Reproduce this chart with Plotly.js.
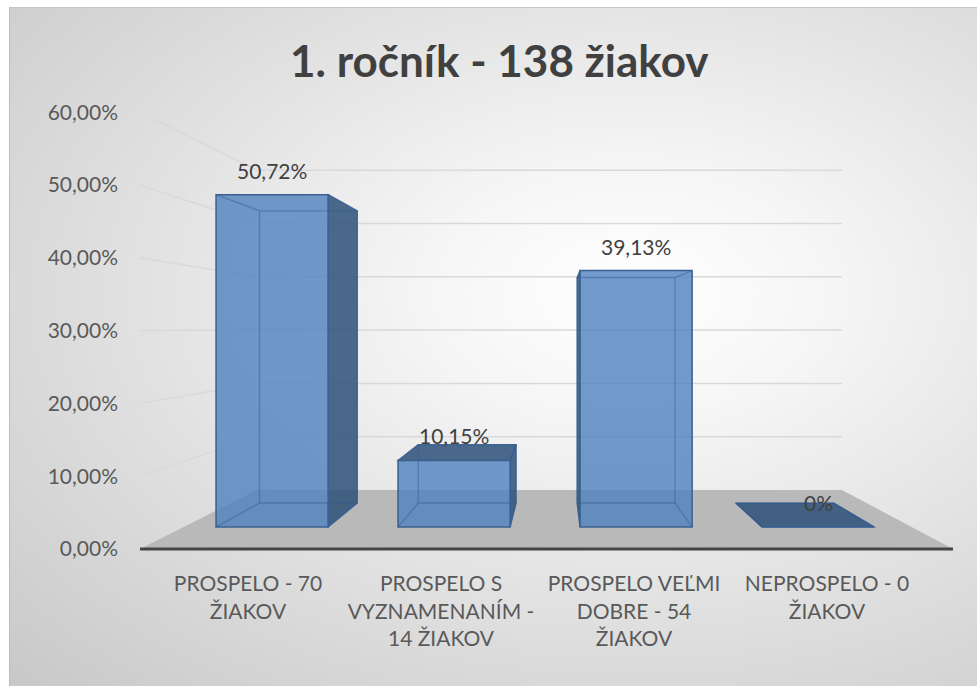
<!DOCTYPE html>
<html>
<head>
<meta charset="utf-8">
<script src="https://cdn.plot.ly/plotly-3.0.1.min.js"></script>
<style>
  html, body { margin: 0; padding: 0; background: #ffffff; overflow: hidden; }
  #wrap { position: relative; width: 977px; height: 686px; overflow: hidden; }
  #bg { position: absolute; left: 9px; top: 7px; width: 968px; height: 679px;
        border-top: 1px solid #c4c4c4; border-left: 1px solid #bcbcbc;
        background: radial-gradient(ellipse farthest-corner at 64% 42%, #ffffff 0%, #f6f6f6 22%, #e2e2e2 55%, #c8c8c8 100%); }
  #chart { position: absolute; left: 0; top: 0; width: 977px; height: 686px; }
</style>
</head>
<body>
<div id="wrap"><div id="bg"></div><div id="chart"></div></div>
<script>
// ---- data ----
const chartTitle = '1. ročník - 138 žiakov';
const categories = ['PROSPELO - 70 ŽIAKOV', 'PROSPELO S VYZNAMENANÍM - 14 ŽIAKOV', 'PROSPELO VEĽMI DOBRE - 54 ŽIAKOV', 'NEPROSPELO - 0 ŽIAKOV'];
const tickLabels = ['PROSPELO - 70<br>ŽIAKOV', 'PROSPELO S<br>VYZNAMENANÍM -<br>14 ŽIAKOV', 'PROSPELO VEĽMI<br>DOBRE - 54<br>ŽIAKOV', 'NEPROSPELO - 0<br>ŽIAKOV'];
const values = [50.72, 10.15, 39.13, 0];
const valueLabels = ['50,72%', '10,15%', '39,13%', '0%'];
const yTicks = [0, 10, 20, 30, 40, 50, 60];
const yTickLabels = ['0,00%', '10,00%', '20,00%', '30,00%', '40,00%', '50,00%', '60,00%'];

// ---- pseudo-3D geometry (pixels) ----
const W = 977, H = 686;
const FRONT = { L: 140, R: 953, Y: 549, S: 7.28 };   // floor front edge plane
const BACK  = { L: 257, R: 842, Y: 490, S: 5.33 };   // back wall plane
const D1 = 0.373, D2 = 0.78;                         // bar front / back depth
const OFF = 0.486, HW = 0.077;                        // bar centre offset / half width (unit of floor width)
function plane(d) {
  return { L: FRONT.L + (BACK.L - FRONT.L) * d, R: FRONT.R + (BACK.R - FRONT.R) * d,
           Y: FRONT.Y + (BACK.Y - FRONT.Y) * d, S: FRONT.S + (BACK.S - FRONT.S) * d };
}
const P1 = plane(D1), P2 = plane(D2);
const n = categories.length;
const cOfPx = px => -OFF + n * (px - P1.L) / (P1.R - P1.L);
const vOfPy = py => (P1.Y - py) / P1.S;
function pt(u, d, v) {
  const p = plane(d);
  return [cOfPx(p.L + u * (p.R - p.L)), vOfPy(p.Y - v * p.S)];
}
const path = pts => 'M' + pts.map(p => p[0].toFixed(4) + ',' + p[1].toFixed(4)).join('L') + 'Z';
const line = (a, b, color, width, layer) => ({ type: 'line', xref: 'x2', yref: 'y2', x0: a[0], y0: a[1], x1: b[0], y1: b[1], line: { color: color, width: width }, layer: layer });
const UC = (P2.L - P1.L) / ((P1.R - P1.L) - (P2.R - P2.L));
const VE = (P1.Y - P2.Y) / (P1.S - P2.S);

const shapes = [];
// floor
shapes.push({ type: 'path', xref: 'x2', yref: 'y2', path: path([pt(0,0,0), pt(1,0,0), pt(1,1,0), pt(0,1,0)]), fillcolor: '#b9b9b9', line: { width: 0 }, layer: 'below' });
// wall grid lines
yTicks.slice(1).forEach(v => {
  shapes.push(line(pt(0,1,v), pt(1,1,v), '#d9d9d9', 1.5, 'below'));
  shapes.push(line(pt(0,0,v), pt(0,1,v), '#d9d9d9', 1.5, 'below'));
});
// axis line
shapes.push(line(pt(0,0,0), pt(1,0,0), '#454545', 3, 'below'));

const SIDE = 'rgba(45,80,120,0.85)';
const EDGE = 'rgba(52,92,145,0.75)';
values.forEach((v, i) => {
  const uc = (i + OFF) / n, u0 = uc - HW, u1 = uc + HW;
  if (u1 < UC) shapes.push({ type: 'path', xref: 'x2', yref: 'y2', path: path([pt(u1,D1,0), pt(u1,D2,0), pt(u1,D2,v), pt(u1,D1,v)]), fillcolor: SIDE, line: { color: EDGE, width: 1.2 }, layer: 'below' });
  if (u0 > UC) shapes.push({ type: 'path', xref: 'x2', yref: 'y2', path: path([pt(u0,D1,0), pt(u0,D2,0), pt(u0,D2,v), pt(u0,D1,v)]), fillcolor: SIDE, line: { color: EDGE, width: 1.2 }, layer: 'below' });
  if (v < VE) shapes.push({ type: 'path', xref: 'x2', yref: 'y2', path: path([pt(u0,D1,v), pt(u1,D1,v), pt(u1,D2,v), pt(u0,D2,v)]), fillcolor: SIDE, line: { color: EDGE, width: 1.2 }, layer: 'below' });
  const hid = 'rgba(50,90,145,0.45)';
  shapes.push({ type: 'path', xref: 'x2', yref: 'y2', path: path([pt(u0,D2,0), pt(u1,D2,0), pt(u1,D2,v), pt(u0,D2,v)]), line: { color: hid, width: 1.3 }, layer: 'above' });
  [[u0,0],[u1,0],[u0,v],[u1,v]].forEach(q => shapes.push(line(pt(q[0],D1,q[1]), pt(q[0],D2,q[1]), hid, 1.3, 'above')));
});

// data labels
const annotations = values.map((v, i) => ({
  xref: 'x2', yref: 'y2', x: i, y: v, text: valueLabels[i], showarrow: false,
  yanchor: 'bottom', xanchor: 'center', yshift: 10,
  font: { family: 'Lato, sans-serif', size: 21, color: '#404040' }
}));

const xCat0 = 248, xStep = 193;
const traces = [
  {
    type: 'bar', x: values.map((_, i) => i), y: values, xaxis: 'x2', yaxis: 'y2',
    width: 2 * HW * n, hoverinfo: 'skip',
    marker: { color: 'rgba(79,129,189,0.80)', line: { color: 'rgb(58,96,145)', width: 1.5 } },
    name: 'Podiel'
  },
  {
    // carrier for the category / percent axes (no visible marks)
    type: 'scatter', mode: 'markers', x: values.map((_, i) => i), y: values, xaxis: 'x', yaxis: 'y',
    marker: { opacity: 0, size: 1 }, hoverinfo: 'skip', name: 'axes'
  }
];

const layout = {
  width: W, height: H,
  margin: { l: 0, r: 0, t: 0, b: 0 },
  paper_bgcolor: 'rgba(0,0,0,0)', plot_bgcolor: 'rgba(0,0,0,0)',
  showlegend: false,
  separators: ', ',
  font: { family: 'Lato, sans-serif', color: '#595959' },
  title: { text: '<b>' + chartTitle + '</b>', x: 0.511, xanchor: 'center', y: 1 - 62 / H, yanchor: 'middle',
           font: { family: 'Lato, sans-serif', size: 44, color: '#404040' } },
  xaxis: {
    domain: [(xCat0 - xStep / 2) / W, (xCat0 + (n - 0.5) * xStep) / W], range: [-0.5, n - 0.5],
    tickmode: 'array', tickvals: categories.map((_, i) => i), ticktext: tickLabels,
    ticks: 'outside', ticklen: 16, tickcolor: 'rgba(0,0,0,0)',
    showgrid: false, zeroline: false, showline: false, fixedrange: true,
    tickfont: { size: 21, color: '#595959' }, anchor: 'y'
  },
  yaxis: {
    domain: [(H - FRONT.Y) / H, (H - (FRONT.Y - 60 * FRONT.S)) / H], range: [0, 60],
    tickmode: 'array', tickvals: yTicks, ticktext: yTickLabels,
    showgrid: false, zeroline: false, showline: false, ticks: '',
    anchor: 'free', position: 118 / W, fixedrange: true,
    tickfont: { size: 21, color: '#595959' }
  },
  xaxis2: { domain: [0, 1], range: [cOfPx(0), cOfPx(W)], visible: false, anchor: 'y2', fixedrange: true },
  yaxis2: { domain: [0, 1], range: [vOfPy(H), vOfPy(0)], visible: false, anchor: 'x2', fixedrange: true },
  shapes: shapes,
  annotations: annotations
};

Plotly.newPlot('chart', traces, layout, { displayModeBar: false, staticPlot: true });
</script>
</body>
</html>
